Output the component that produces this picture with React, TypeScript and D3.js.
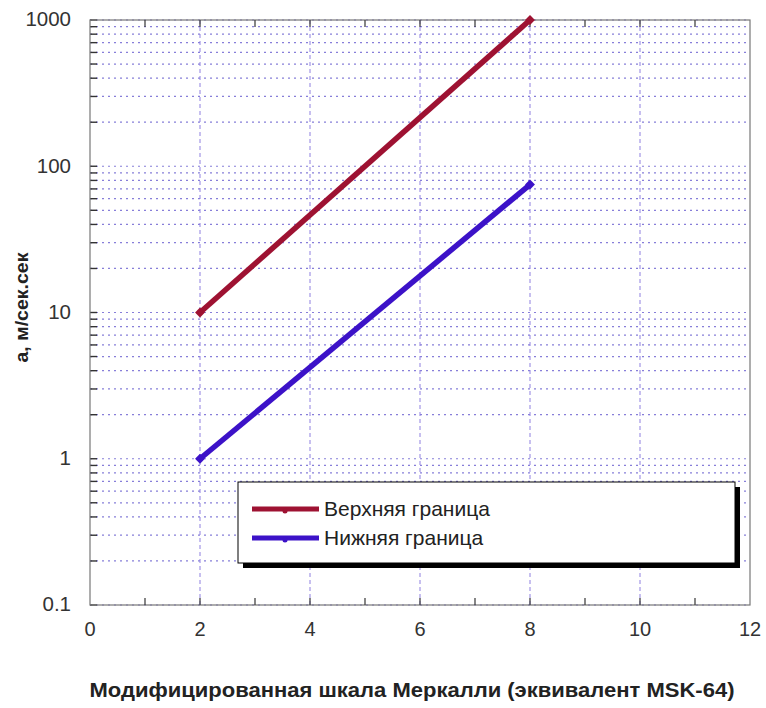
import React from 'react';
import * as d3 from 'd3';

const xTicks = [0, 2, 4, 6, 8, 10, 12];
const yTicks = [0.1, 1, 10, 100, 1000];
const yTickLabels = ['0.1', '1', '10', '100', '1000'];

const intensity = [2, 8];
const upperBound = [10, 1000];
const lowerBound = [1, 75];

const seriesNames = ['Верхняя граница', 'Нижняя граница'];
const seriesColors = ['#9e1232', '#3c12c8'];

const W = 766;
const H = 708;
const margin = { top: 20, right: 16, bottom: 103, left: 90 };

export default function App() {
  const x = d3.scaleLinear().domain([0, 12]).range([margin.left, W - margin.right]);
  const y = d3.scaleLog().domain([0.1, 1000]).range([H - margin.bottom, margin.top]);

  const x0 = x(0), x1 = x(12), y0 = y(0.1), y1 = y(1000);

  // minor log grid values
  const gridVals: number[] = [];
  [0.1, 1, 10, 100].forEach(d => {
    for (let k = 1; k <= 9; k++) gridVals.push(d * k);
  });
  gridVals.push(1000);

  const line = d3.line<number>()
    .x((_, i) => x(intensity[i]))
    .y(d => y(d));

  const series = [upperBound, lowerBound];
  const font = 'Liberation Sans, Arial, sans-serif';

  const lg = { x: 238, y: 482, w: 497, h: 81 };

  return (
    <svg width={W} height={H} style={{ position: 'absolute', left: 0, top: 0, background: '#fff' }}
      fontFamily={font}>
      <rect x={0} y={0} width={W} height={H} fill="#fff" />
      {/* horizontal grid */}
      {gridVals.map((v, i) => (
        <g key={'h' + i}>
          <line x1={x0} x2={x1} y1={y(v)} y2={y(v)} stroke="#6a5fd0" strokeWidth={1.2}
            strokeDasharray="2,4" opacity={0.8} />
          <line x1={x0} x2={x0 + 7} y1={y(v)} y2={y(v)} stroke="#333" strokeWidth={1.4} />
        </g>
      ))}
      {/* vertical grid */}
      {[2, 4, 6, 8, 10].map(v => (
        <line key={'v' + v} x1={x(v)} x2={x(v)} y1={y1} y2={y0} stroke="#8f80e0"
          strokeWidth={1} strokeDasharray="4,3" />
      ))}
      {/* axes frame */}
      <rect x={x0} y={y1} width={x1 - x0} height={y0 - y1} fill="none" stroke="#777" strokeWidth={1.2} />
      {d3.range(1, 12).map(v => (
        <g key={'t' + v}>
          <line x1={x(v)} x2={x(v)} y1={y0} y2={y0 - 7} stroke="#444" strokeWidth={1.3} />
          <line x1={x(v)} x2={x(v)} y1={y1} y2={y1 + 7} stroke="#444" strokeWidth={1.3} />
        </g>
      ))}
      {/* x tick labels */}
      {xTicks.map(v => (
        <text key={'xl' + v} x={x(v)} y={y0 + 26} textAnchor="middle" dominantBaseline="middle"
          fontSize={20} fill="#333">{v}</text>
      ))}
      {/* y tick labels */}
      {yTicks.map((v, i) => (
        <text key={'yl' + i} x={x0 - 19} y={y(v) + 1} textAnchor="end" dominantBaseline="middle"
          fontSize={20.5} fill="#333">{yTickLabels[i]}</text>
      ))}
      {/* series */}
      {series.map((s, i) => (
        <g key={'s' + i}>
          <path d={line(s) || ''} fill="none" stroke={seriesColors[i]} strokeWidth={5.5} strokeLinecap="butt" />
          {s.map((d, j) => (
            <rect key={j} x={x(intensity[j]) - 3.5} y={y(d) - 3.5} width={7} height={7}
              fill={seriesColors[i]} transform={`rotate(45 ${x(intensity[j])} ${y(d)})`} />
          ))}
        </g>
      ))}
      {/* legend */}
      <rect x={lg.x + 5} y={lg.y + 5} width={lg.w} height={lg.h} fill="#000" />
      <rect x={lg.x} y={lg.y} width={lg.w} height={lg.h} fill="#fff" stroke="#000" strokeWidth={1} />
      {seriesNames.map((n, i) => (
        <g key={'lg' + i}>
          <line x1={lg.x + 14} x2={lg.x + 81} y1={lg.y + 27 + i * 29} y2={lg.y + 27 + i * 29}
            stroke={seriesColors[i]} strokeWidth={5} />
          <circle cx={lg.x + 47} cy={lg.y + 29 + i * 29} r={2.5} fill={seriesColors[i]} />
          <text x={lg.x + 86} y={lg.y + 28 + i * 29} dominantBaseline="middle" fontSize={21}
            fill="#222">{n}</text>
        </g>
      ))}
      {/* axis titles */}
      <text x={412} y={692} textAnchor="middle" dominantBaseline="middle" fontSize={19.5}
        fontWeight="bold" fill="#222" textLength={645} lengthAdjust="spacingAndGlyphs">
        Модифицированная шкала Меркалли (эквивалент MSK-64)
      </text>
      <text transform={`translate(23,${(y0 + y1) / 2 - 5}) rotate(-90)`} textAnchor="middle"
        dominantBaseline="middle" fontSize={17.5} fontWeight="bold" fill="#222"
        textLength={110} lengthAdjust="spacingAndGlyphs">
        a, м/сек.сек
      </text>
    </svg>
  );
}
